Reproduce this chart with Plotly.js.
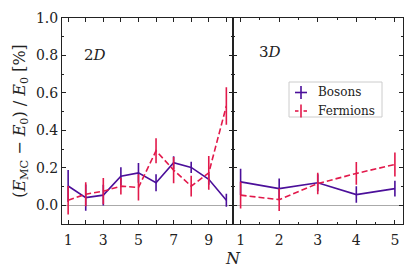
<!DOCTYPE html>
<html><head><meta charset="utf-8">
<script src="https://cdn.plot.ly/plotly-3.0.1.min.js"></script>
<style>html,body{margin:0;padding:0;background:#fff;}#plot{width:415px;height:277px;}</style>
</head><body><div id="plot"></div>
<script>
const N2D = [1,2,3,4,5,6,7,8,9,10];
const bos2D = [0.103,0.041,0.054,0.155,0.173,0.120,0.227,0.202,0.139,0.027];
const bos2DErr = [0.085,0.070,0.055,0.048,0.053,0.045,0.035,0.030,0.030,0.035];
const fer2D = [0.027,0.059,0.075,0.102,0.095,0.291,0.188,0.102,0.173,0.530];
const fer2DErr = [0.076,0.064,0.070,0.045,0.070,0.067,0.070,0.055,0.090,0.100];
const N3D = [1,2,3,4,5];
const bos3D = [0.125,0.089,0.120,0.057,0.089];
const bos3DErr = [0.070,0.054,0.045,0.044,0.042];
const fer3D = [0.054,0.030,0.116,0.170,0.218];
const fer3DErr = [0.071,0.060,0.057,0.061,0.064];
const seriesNames = ['Bosons','Fermions'];

const cB = '#4b0f9a', cF = '#e2194b';
const DASH = '6px,3px';
const FONT = "'DejaVu Serif', 'Liberation Serif', serif";
function tr(x,y,e,color,dash,xa,name){
  return {x:x,y:y,type:'scatter',mode:'lines',xaxis:xa,yaxis:xa==='x'?'y':'y2',
    name:name,showlegend:false,line:{color:color,width:1.6,dash:dash},
    error_y:{type:'data',array:e,visible:true,color:color,thickness:1.6,width:0}};
}
const data = [
  tr(N2D,bos2D,bos2DErr,cB,'solid','x',seriesNames[0]),
  tr(N2D,fer2D,fer2DErr,cF,DASH,'x',seriesNames[1]),
  tr(N3D,bos3D,bos3DErr,cB,'solid','x2',seriesNames[0]),
  tr(N3D,fer3D,fer3DErr,cF,DASH,'x2',seriesNames[1])
];
const axcommon = {showline:true,mirror:'ticks',linecolor:'#222',linewidth:1,ticks:'inside',ticklen:4,tickcolor:'#222',tickwidth:1,
  showgrid:false,zeroline:false,tickfont:{family:FONT,size:14,color:'#222'}};
// plot area in px: left 62, right 403, top 18, bottom 224
const L=62, R=403, T=18, B=224;
const px=v=>(v-L)/(R-L), py=v=>(B-v)/(B-T);
const shapes=[
  {type:'rect',xref:'paper',yref:'paper',x0:px(289),x1:px(382),y0:py(117),y1:py(82),line:{color:'#cccccc',width:1},fillcolor:'rgba(255,255,255,0.9)'},
  {type:'line',xref:'paper',yref:'paper',x0:px(295),x1:px(307),y0:py(92.5),y1:py(92.5),line:{color:cB,width:1.6}},
  {type:'line',xref:'paper',yref:'paper',x0:px(301),x1:px(301),y0:py(86),y1:py(99),line:{color:cB,width:1.6}},
  {type:'line',xref:'paper',yref:'paper',x0:px(295),x1:px(298.5),y0:py(111),y1:py(111),line:{color:cF,width:1.6}},
  {type:'line',xref:'paper',yref:'paper',x0:px(303.5),x1:px(307),y0:py(111),y1:py(111),line:{color:cF,width:1.6}},
  {type:'line',xref:'paper',yref:'paper',x0:px(301),x1:px(301),y0:py(104.5),y1:py(117.5),line:{color:cF,width:1.6}}
];
const layout = {
  width:415,height:277,margin:{l:L,r:415-R,t:T,b:277-B},
  paper_bgcolor:'#fff',plot_bgcolor:'#fff',
  font:{family:FONT,color:'#222'},
  xaxis:Object.assign({},axcommon,{domain:[0,0.5],range:[0.65,10.35],tickmode:'array',tickvals:[1,3,5,7,9],
    minor:{tickvals:[2,4,6,8,10],ticks:'inside',ticklen:4,tickcolor:'#222',tickwidth:1},ticklabelstandoff:3}),
  xaxis2:Object.assign({},axcommon,{domain:[0.5,1],range:[0.79,5.21],tickmode:'array',tickvals:[1,2,3,4,5],
    minor:{dtick:0.5,ticks:'inside',ticklen:2,tickcolor:'#222',tickwidth:1},anchor:'y2',ticklabelstandoff:3}),
  yaxis:Object.assign({},axcommon,{range:[-0.1,1.0],dtick:0.2,tickformat:'.1f',
    zeroline:true,zerolinecolor:'#aaaaaa',zerolinewidth:1.5,ticklabelstandoff:0,
    minor:{dtick:0.1,ticks:'inside',ticklen:2,tickcolor:'#222',tickwidth:1},
    title:{text:'(<i>E</i><sub>MC</sub> − <i>E</i><sub>0</sub>) / <i>E</i><sub>0</sub> [%]',font:{family:FONT,size:16,color:'#222'},standoff:6}}),
  yaxis2:Object.assign({},axcommon,{range:[-0.1,1.0],dtick:0.2,anchor:'x2',showticklabels:false,
    zeroline:true,zerolinecolor:'#aaaaaa',zerolinewidth:1.5,
    minor:{dtick:0.1,ticks:'inside',ticklen:2,tickcolor:'#222',tickwidth:1}}),
  shapes:shapes,
  annotations:[
    {xref:'x',yref:'y',x:2.5,y:0.8,text:'2<i>D</i>',showarrow:false,font:{family:FONT,size:15,color:'#222'}},
    {xref:'x2',yref:'y2',x:1.77,y:0.82,text:'3<i>D</i>',showarrow:false,font:{family:FONT,size:15,color:'#222'}},
    {xref:'paper',yref:'paper',x:px(316),xanchor:'left',y:py(92.5),yanchor:'middle',text:seriesNames[0],showarrow:false,font:{family:FONT,size:12,color:'#222'}},
    {xref:'paper',yref:'paper',x:px(316),xanchor:'left',y:py(111),yanchor:'middle',text:seriesNames[1],showarrow:false,font:{family:FONT,size:12,color:'#222'}},
    {xref:'paper',yref:'paper',x:0.5,y:py(258),yanchor:'middle',text:'<i>N</i>',showarrow:false,font:{family:FONT,size:16,color:'#222'}}
  ]
};
Plotly.newPlot('plot',data,layout,{staticPlot:true,displayModeBar:false});
</script></body></html>
